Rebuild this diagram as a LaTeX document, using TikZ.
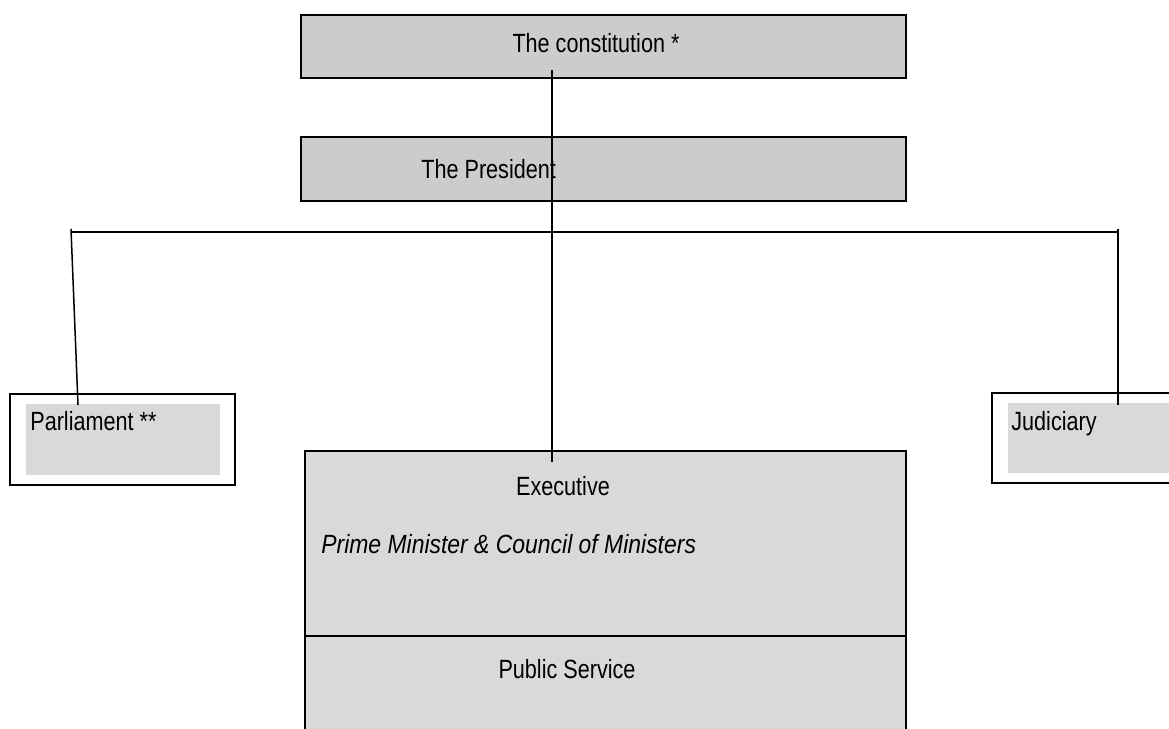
\documentclass[tikz,border=0pt]{standalone}
\usepackage{fontspec}
\setmainfont{Liberation Sans}[FakeStretch=0.82]
\newfontfamily\wideitfont{Liberation Sans}[FakeStretch=0.87]
\definecolor{topGray}{HTML}{CCCCCC}
\definecolor{paneGray}{HTML}{D9D9D9}
\tikzset{
  box/.style={rectangle,draw,line width=0.4mm,inner sep=0pt,outer sep=0pt},
  pane/.style={rectangle,fill=paneGray,inner sep=0pt,outer sep=0pt},
  lbl/.style={inner sep=0pt,font=\fontsize{15}{18}\selectfont},
  conn/.style={line width=0.3mm}
}
\begin{document}
\begin{tikzpicture}[x=0.2mm,y=-0.2mm]
\useasboundingbox (0,0) rectangle (1169,728);

\draw (603.5,46.5) node(CONST)[box,fill=topGray,minimum width=121mm,minimum height=12.6mm]{};
\draw (603.5,169) node(PRES)[box,fill=topGray,minimum width=121mm,minimum height=12.8mm]{};
\draw (122.5,439.5) node(PARL)[box,fill=white,line width=0.3mm,minimum width=45mm,minimum height=18.2mm]{};
\draw (123,439.5) node(PARLIN)[pane,minimum width=38.8mm,minimum height=14.2mm]{};
\draw (1086,438) node(JUD)[box,fill=white,line width=0.3mm,minimum width=37.6mm,minimum height=18mm]{};
\draw (1094,438) node(JUDIN)[pane,minimum width=34.4mm,minimum height=14mm]{};
\draw (605.5,543.5) node(EXEC)[box,fill=paneGray,minimum width=120.2mm,minimum height=37mm]{};
\draw (605.5,688) node(PUB)[box,fill=paneGray,minimum width=120.2mm,minimum height=20.8mm]{};

\draw (596,52) node(CONSTTXT)[lbl,anchor=base]{The constitution *};
\draw (421,178.5) node(PRESTXT)[lbl,anchor=base west]{The President};
\draw (30,430) node(PARLTXT)[lbl,anchor=base west]{Parliament **};
\draw (1011,430) node(JUDTXT)[lbl,anchor=base west]{Judiciary};
\draw (563,495.5) node(EXECTXT)[lbl,anchor=base]{Executive};
\draw (321,553) node(PMTXT)[lbl,anchor=base west]{\wideitfont\itshape Prime Minister \& Council of Ministers};
\draw (567,678) node(PUBTXT)[lbl,anchor=base]{Public Service};

\coordinate (CTOP) at (552,70);
\coordinate (CEND) at (552,462);
\coordinate (HL) at (71,232);
\coordinate (HR) at (1118,232);
\coordinate (LTOP) at (71,229);
\coordinate (LEND) at (78,405);
\coordinate (RTOP) at (1118,229);
\coordinate (REND) at (1118,405);

\draw[conn] (CTOP) -- (CEND);
\draw[conn] (HL) -- (HR);
\draw[conn] (LTOP) -- (LEND);
\draw[conn] (RTOP) -- (REND);

\end{tikzpicture}
\end{document}
